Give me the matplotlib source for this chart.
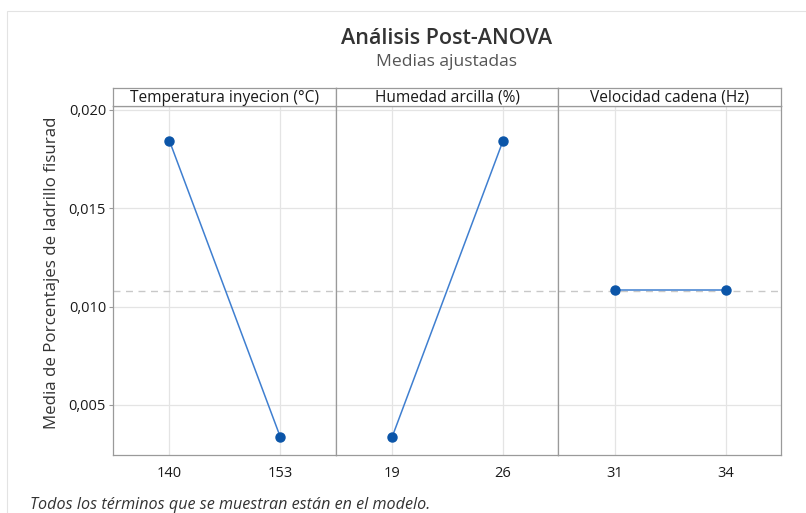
import matplotlib
matplotlib.use("Agg")
import matplotlib.pyplot as plt
from matplotlib.patches import Rectangle

factors = ["Temperatura inyecion (°C)", "Humedad arcilla (%)", "Velocidad cadena (Hz)"]
levels = [["140", "153"], ["19", "26"], ["31", "34"]]
means = [[0.01842, 0.00337], [0.00337, 0.01842], [0.01082, 0.01082]]
overall_mean = 0.0108
yticks = [0.005, 0.010, 0.015, 0.020]
ytick_labels = ["0,005", "0,010", "0,015", "0,020"]

plt.rcParams['font.family'] = ['Open Sans', 'DejaVu Sans']

W, H = 806, 513
fig = plt.figure(figsize=(W / 100, H / 100), dpi=100)

# faint outer frame
fig.add_artist(Rectangle((7 / W, -0.1), 1.2, (1 - 11 / H) + 0.1, transform=fig.transFigure,
                         fill=False, edgecolor="#e3e3e3", linewidth=0.8))

left, right = 113 / W, 781 / W
bottom, top = 1 - 455 / H, 1 - 106 / H
strip_top = 1 - 88 / H
pw = (right - left) / 3

frame_c = "#9a9a9a"
line_c = "#3f7fd0"
mark_c = "#0b55a8"

for i in range(3):
    ax = fig.add_axes([left + i * pw, bottom, pw, top - bottom])
    x = list(range(len(levels[i])))
    ax.axhline(overall_mean, color="#c8c8c8", linestyle=(0, (5, 4)), linewidth=1.0, zorder=1)
    ax.plot(x, means[i], color=line_c, linewidth=1.1, zorder=3)
    ax.plot(x, means[i], linestyle="none", marker="o", markersize=6.5, color=mark_c, zorder=4)
    ax.set_xlim(-0.51, 1.5)
    ax.set_ylim(0.00245, 0.0202)
    ax.set_xticks(x)
    ax.set_xticklabels(levels[i], fontsize=10.5, color="#1a1a1a")
    ax.set_yticks(yticks)
    ax.grid(True, color="#e4e4e4", linewidth=0.9, zorder=0)
    ax.set_axisbelow(True)
    ax.tick_params(axis="x", length=0, pad=8)
    if i == 0:
        ax.set_yticklabels(ytick_labels, fontsize=10.5, color="#1a1a1a")
        ax.tick_params(axis="y", length=3, color=frame_c, pad=2)
        ax.set_ylabel("Media de Porcentajes de ladrillo fisurad", fontsize=12.2, color="#333333")
        ax.yaxis.set_label_coords(-0.236, 0.522)
    else:
        ax.tick_params(axis="y", length=0, labelleft=False)
    for s in ax.spines.values():
        s.set_color(frame_c)
        s.set_linewidth(0.9)

    sax = fig.add_axes([left + i * pw, top, pw, strip_top - top])
    sax.set_xticks([])
    sax.set_yticks([])
    sax.set_facecolor("white")
    for s in sax.spines.values():
        s.set_color(frame_c)
        s.set_linewidth(0.9)
    sax.text(0.5, 0.45, factors[i], ha="center", va="center", fontsize=11.2,
             color="#1a1a1a", transform=sax.transAxes)

fig.text(447 / W, 1 - 38 / H, "Análisis Post-ANOVA", ha="center", va="center",
         fontsize=15.5, fontweight="semibold", color="#333333")
fig.text(447 / W, 1 - 62 / H, "Medias ajustadas", ha="center", va="center",
         fontsize=12.6, color="#555555")
fig.text(30 / W, 1 - 505 / H, "Todos los términos que se muestran están en el modelo.",
         ha="left", va="center", fontsize=11.6, style="italic", color="#333333")

fig.savefig("out.png", dpi=100)
